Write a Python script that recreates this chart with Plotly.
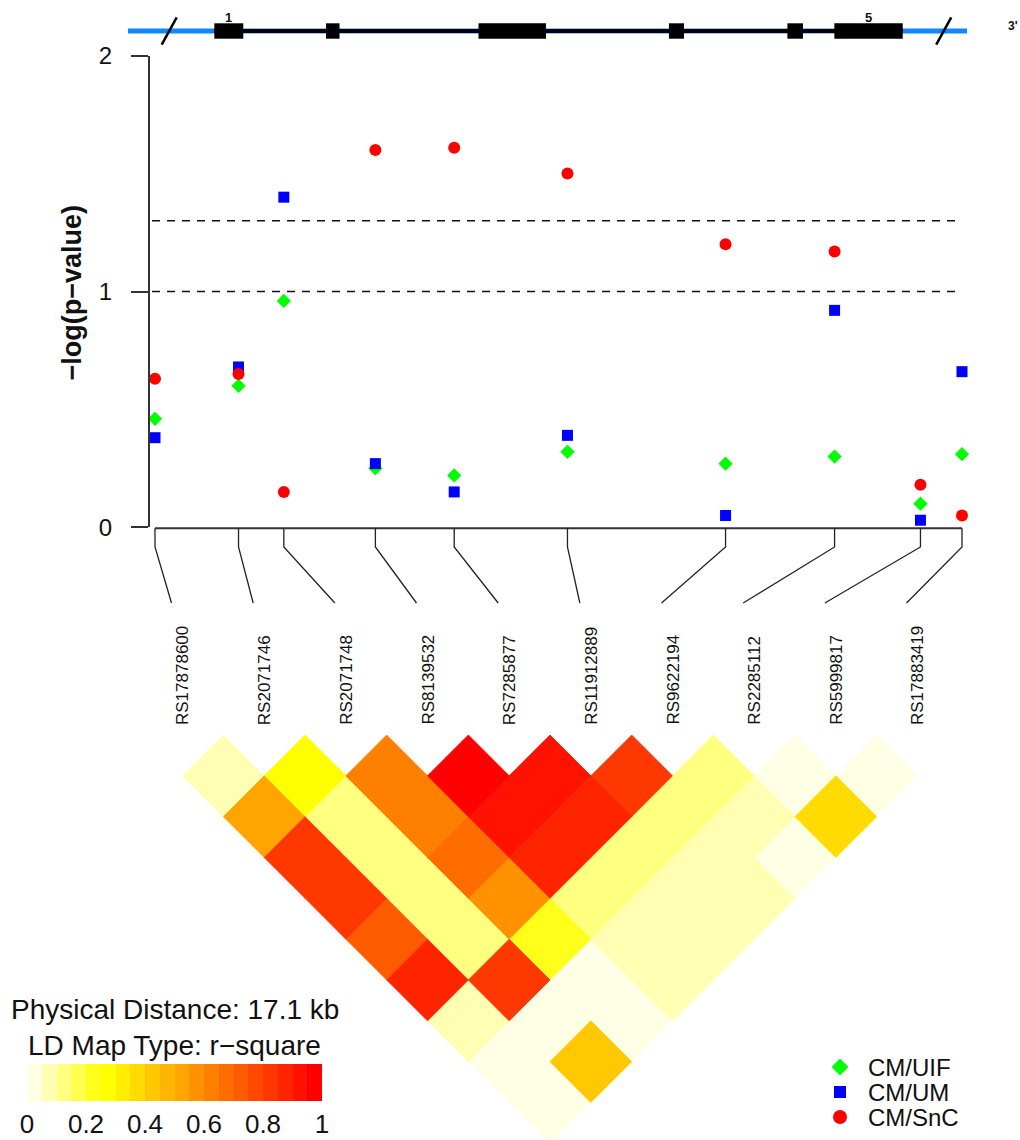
import plotly.graph_objects as go

W, H = 1020, 1140
FONT = "Arial, 'Liberation Sans', Helvetica, sans-serif"
INK = "#111111"

# ---------------- data ----------------
snp_ids = ["RS17878600", "RS2071746", "RS2071748", "RS8139532", "RS7285877",
           "RS11912889", "RS9622194", "RS2285112", "RS5999817", "RS17883419"]
snp_pos_kb = [0.00, 1.77, 2.73, 4.67, 6.34, 8.74, 12.09, 14.40, 16.22, 17.10]
total_kb = 17.1

series_names = ["CM/UIF", "CM/UM", "CM/SnC"]
series_colors = ["#00FF00", "#0000FF", "#FF0000"]
series_symbols = ["diamond", "square", "circle"]
uif = [0.46, 0.60, 0.96, 0.25, 0.22, 0.32, 0.27, 0.30, 0.10, 0.31]
um = [0.38, 0.68, 1.40, 0.27, 0.15, 0.39, 0.05, 0.92, 0.03, 0.66]
snc = [0.63, 0.65, 0.15, 1.60, 1.61, 1.50, 1.20, 1.17, 0.18, 0.05]
series_values = [uif, um, snc]
thresholds = [1.0, 1.3]
y_ticks = [0, 1, 2]

# LD r-square, upper triangle: ld_rows[i][k] = r2(snp i, snp i+1+k)
ld_rows = [
    [0.08, 0.52, 0.83, 0.82, 0.72, 0.87, 0.08, 0.03, 0.02],
    [0.27, 0.12, 0.13, 0.12, 0.11, 0.82, 0.02, 0.43],
    [0.62, 0.63, 0.67, 0.57, 0.22, 0.04, 0.03],
    [0.97, 0.92, 0.87, 0.13, 0.08, 0.07],
    [0.93, 0.88, 0.12, 0.07, 0.06],
    [0.82, 0.13, 0.08, 0.07],
    [0.12, 0.08, 0.03],
    [0.02, 0.37],
    [0.01],
]
ld_colors = ["#FFFFE6", "#FFFFB3", "#FFFF80", "#FFFF4D", "#FFFF1A",
             "#FFFF00", "#FFED00", "#FFDB00", "#FFC800", "#FFB600",
             "#FFA400", "#FF9200", "#FF8000", "#FF6D00", "#FF5B00",
             "#FF4900", "#FF3700", "#FF2400", "#FF1200", "#FF0000"]
cbar_tickvals = [0, 0.2, 0.4, 0.6, 0.8, 1]
cbar_ticktext = ["0", "0.2", "0.4", "0.6", "0.8", "1"]

# gene structure (kb, same scale as SNP positions)
gene_flank_kb = [-0.572, 17.207]
gene_body_kb = [1.25, 15.85]
exon_start_kb = [1.257, 3.624, 6.855, 10.89, 13.40, 14.395]
exon_end_kb = [1.871, 3.910, 8.286, 11.21, 13.73, 15.844]
exon_labels = {0: "1", 5: "5"}
break_marks_kb = [0.301, 16.713]
three_prime_kb = 18.18

# ---------------- layout helpers (pixel geometry) ----------------
PX0 = 155.0                      # pixel x of first SNP
PX_PER_KB = (962.0 - PX0) / total_kb


def kb(px):
    return (px - PX0) / PX_PER_KB


full_x_range = [kb(0), kb(W)]

# gene track axis
TRACK_PY, TRACK_UNIT = 31.0, 16.0
GENE_TOP_PY, GENE_BOT_PY = 0.0, 55.0

# main association plot
MAIN_TOP_PY, MAIN_BOT_PY = 55.7, 527.3
MAIN_LEFT_PX = 150.0

# lower panel (map lines, labels, LD heatmap)
LOW_TOP_PY = 515.0
APEX_PY = 735.0
LABEL0_PX, LABEL_STEP_PX = 182.5, 81.67
D = LABEL_STEP_PX / 2.0          # half diagonal of an LD cell, px


def vy(py):
    return (py - APEX_PY) / D


label_kb = [kb(LABEL0_PX + LABEL_STEP_PX * i) for i in range(len(snp_ids))]
hw_kb = D / PX_PER_KB

fig = go.Figure()

# ---------------- LD heatmap (diamonds) ----------------
bins = {}
for i, row in enumerate(ld_rows):
    for k, r2 in enumerate(row):
        j = i + 1 + k
        b = min(int(r2 * len(ld_colors)), len(ld_colors) - 1)
        cx = (label_kb[i] + label_kb[j]) / 2.0
        cy = float(j - i)
        xs, ys = bins.setdefault(b, ([], []))
        xs += [cx, cx + hw_kb, cx, cx - hw_kb, cx, None]
        ys += [cy - 1, cy, cy + 1, cy, cy - 1, None]
for b in sorted(bins):
    xs, ys = bins[b]
    fig.add_trace(go.Scatter(
        x=xs, y=ys, mode="lines", fill="toself", fillcolor=ld_colors[b],
        line=dict(color=ld_colors[b], width=0.8), hoverinfo="skip",
        showlegend=False, xaxis="x3", yaxis="y3"))

# ---------------- genetic map lines ----------------
mx, my = [snp_pos_kb[0], snp_pos_kb[-1], None], [vy(528.3), vy(528.3), None]
fig.add_trace(go.Scatter(x=mx, y=my, mode="lines",
                         line=dict(color="#333333", width=2),
                         hoverinfo="skip", showlegend=False,
                         xaxis="x3", yaxis="y3"))
lx, ly = [], []
for i, p in enumerate(snp_pos_kb):
    lx += [p, p, label_kb[i] - 11.0 / PX_PER_KB, None]
    ly += [vy(528.3), vy(547), vy(603), None]
fig.add_trace(go.Scatter(x=lx, y=ly, mode="lines",
                         line=dict(color="#222222", width=1.3),
                         hoverinfo="skip", showlegend=False,
                         xaxis="x3", yaxis="y3"))

# ---------------- association points ----------------
main_sizes = [11, 11, 12]
for name, vals, col, sym, sz in zip(series_names, series_values,
                                    series_colors, series_symbols, main_sizes):
    fig.add_trace(go.Scatter(
        x=snp_pos_kb, y=vals, mode="markers", name=name,
        marker=dict(color=col, symbol=sym, size=sz, opacity=1,
                    line=dict(width=0)),
        cliponaxis=False, showlegend=False, xaxis="x", yaxis="y"))

# ---------------- manual legend ----------------
leg_py = [1067, 1092, 1117]
leg_sizes = [13, 12, 14]
for name, col, sym, sz, p in zip(series_names, series_colors, series_symbols,
                                 leg_sizes, leg_py):
    fig.add_trace(go.Scatter(
        x=[kb(840)], y=[vy(p)], mode="markers", name=name,
        marker=dict(color=col, symbol=sym, size=sz, opacity=1,
                    line=dict(width=0)),
        hoverinfo="skip", showlegend=False, cliponaxis=False,
        xaxis="x3", yaxis="y3"))

annotations = []
for name, p in zip(series_names, leg_py):
    annotations.append(dict(
        x=kb(866), y=vy(p), xref="x3", yref="y3", text=name, showarrow=False,
        xanchor="left", yanchor="middle",
        font=dict(family=FONT, size=24, color=INK)))

# ---------------- colour key ----------------
fig.add_trace(go.Heatmap(
    z=[[(k + 0.5) / len(ld_colors) for k in range(len(ld_colors))]],
    x=[(k + 0.5) / len(ld_colors) for k in range(len(ld_colors))],
    y=[0],
    zmin=0, zmax=1, showscale=False, hoverinfo="skip",
    colorscale=[s for k, c in enumerate(ld_colors)
                for s in ([k / len(ld_colors), c], [(k + 1) / len(ld_colors), c])],
    xaxis="x4", yaxis="y4"))

annotations += [
    dict(x=kb(175), y=vy(1009), xref="x3", yref="y3",
         text=f"Physical Distance: {total_kb} kb", showarrow=False,
         xanchor="center", yanchor="middle",
         font=dict(family=FONT, size=28, color=INK)),
    dict(x=kb(174), y=vy(1045), xref="x3", yref="y3",
         text="LD Map Type: r\u2212square", showarrow=False,
         xanchor="center", yanchor="middle",
         font=dict(family=FONT, size=28, color=INK)),
]

# SNP labels
for i, sid in enumerate(snp_ids):
    annotations.append(dict(
        x=label_kb[i], y=vy(727), xref="x3", yref="y3", text=sid,
        showarrow=False, textangle=-90, xanchor="center", yanchor="bottom",
        font=dict(family=FONT, size=17, color=INK)))

# y-axis title
annotations.append(dict(
    x=71.5 / W, y=(H - 293) / H, xref="paper", yref="paper",
    text="<b>\u2212log(p\u2212value)</b>", showarrow=False, textangle=-90,
    xanchor="center", yanchor="middle",
    font=dict(family=FONT, size=27, color=INK)))

# gene labels
for idx, lab in exon_labels.items():
    annotations.append(dict(
        x=(exon_start_kb[idx] + exon_end_kb[idx]) / 2, y=(TRACK_PY - 17) / TRACK_UNIT,
        xref="x2", yref="y2", text=f"<b>{lab}</b>", showarrow=False,
        xanchor="center", yanchor="middle",
        font=dict(family=FONT, size=13, color=INK)))
annotations.append(dict(
    x=three_prime_kb, y=(TRACK_PY - 26) / TRACK_UNIT, xref="x2", yref="y2",
    text="<b>3'</b>", showarrow=False, xanchor="center", yanchor="middle",
    font=dict(family=FONT, size=12, color=INK)))

# ---------------- shapes ----------------
shapes = []
main_x_range = [kb(MAIN_LEFT_PX), kb(W)]
for t in thresholds:
    shapes.append(dict(type="line", xref="x", yref="y",
                       x0=kb(MAIN_LEFT_PX + 2), x1=snp_pos_kb[-1], y0=t, y1=t,
                       line=dict(color="#111111", width=1.6, dash="8px,7px")))

shapes.append(dict(type="line", xref="x2", yref="y2",
                   x0=gene_flank_kb[0], x1=gene_flank_kb[1], y0=0, y1=0,
                   line=dict(color="#1188FF", width=5)))
shapes.append(dict(type="line", xref="x2", yref="y2",
                   x0=gene_body_kb[0], x1=gene_body_kb[1], y0=0, y1=0,
                   line=dict(color="#000000", width=4)))
EXON_HALF = 7.7 / TRACK_UNIT
for s, e in zip(exon_start_kb, exon_end_kb):
    shapes.append(dict(type="rect", xref="x2", yref="y2",
                       x0=s, x1=e, y0=-EXON_HALF, y1=EXON_HALF,
                       fillcolor="#000000", line=dict(width=0)))
for b in break_marks_kb:
    shapes.append(dict(type="line", xref="x2", yref="y2",
                       x0=b - 7.5 / PX_PER_KB, x1=b + 7.5 / PX_PER_KB,
                       y0=-13.7 / TRACK_UNIT, y1=13.7 / TRACK_UNIT,
                       line=dict(color="#000000", width=2.5)))

hidden = dict(visible=False, showgrid=False, zeroline=False, automargin=False)

fig.update_layout(
    width=W, height=H,
    margin=dict(l=0, r=0, t=0, b=0, pad=0, autoexpand=False),
    paper_bgcolor="white", plot_bgcolor="rgba(0,0,0,0)",
    font=dict(family=FONT, color=INK),
    showlegend=False,
    xaxis=dict(domain=[MAIN_LEFT_PX / W, 1], range=main_x_range,
               anchor="y", **hidden),
    yaxis=dict(domain=[(H - MAIN_BOT_PY) / H, (H - MAIN_TOP_PY) / H],
               range=[0, 2], anchor="x", showgrid=False, zeroline=False,
               automargin=False,
               showline=True, linecolor="#333333", linewidth=2,
               ticks="outside", ticklen=17, tickwidth=2, tickcolor="#333333",
               tickvals=y_ticks, ticktext=[str(v) for v in y_ticks],
               tickfont=dict(family=FONT, size=24, color=INK),
               ticklabelstandoff=14),
    xaxis2=dict(domain=[0, 1], range=full_x_range, anchor="y2", **hidden),
    yaxis2=dict(domain=[(H - GENE_BOT_PY) / H, (H - GENE_TOP_PY) / H],
                range=[(TRACK_PY - GENE_BOT_PY) / TRACK_UNIT,
                       (TRACK_PY - GENE_TOP_PY) / TRACK_UNIT],
                anchor="x2", **hidden),
    xaxis3=dict(domain=[0, 1], range=full_x_range, anchor="y3", **hidden),
    yaxis3=dict(domain=[0, (H - LOW_TOP_PY) / H],
                range=[vy(H), vy(LOW_TOP_PY)], anchor="x3", **hidden),
    xaxis4=dict(domain=[27 / W, 322 / W], range=[0, 1], anchor="y4",
                showgrid=False, zeroline=False, showline=False, ticks="",
                automargin=False,
                tickvals=cbar_tickvals, ticktext=cbar_ticktext,
                tickfont=dict(family=FONT, size=26, color=INK),
                ticklabelstandoff=5),
    yaxis4=dict(domain=[(H - 1101) / H, (H - 1064) / H], range=[-0.5, 0.5],
                anchor="x4", **hidden),
    annotations=annotations,
    shapes=shapes,
)

fig.write_html("out.html",
               config={"displayModeBar": False},
               post_script="document.body.style.margin='0px';"
                           "document.body.style.overflow='hidden';")
